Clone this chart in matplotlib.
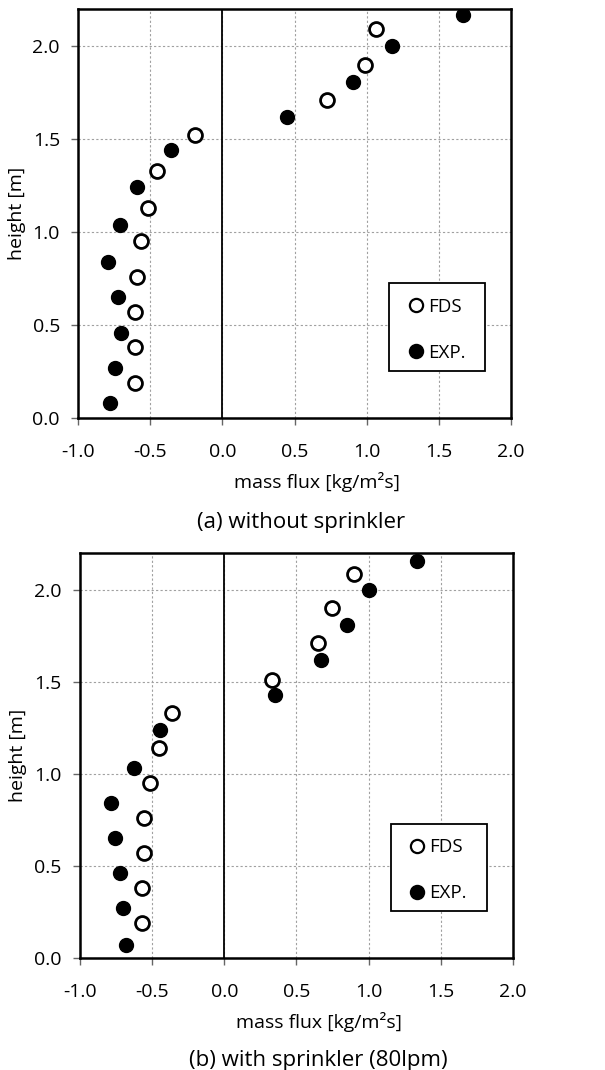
import matplotlib
matplotlib.use("Agg")
import matplotlib.pyplot as plt
from matplotlib.patches import Rectangle

plt.rcParams['font.family'] = ['Open Sans', 'DejaVu Sans']

# -----------------------------
# data
# -----------------------------
# (a) without sprinkler
a_fds_flux = [-0.605, -0.608, -0.605, -0.594, -0.562, -0.515, -0.451, -0.19, 0.724, 0.987, 1.063]
a_fds_height = [0.19, 0.38, 0.57, 0.76, 0.95, 1.13, 1.33, 1.52, 1.71, 1.90, 2.09]
a_exp_flux = [-0.776, -0.746, -0.705, -0.72, -0.792, -0.712, -0.594, -0.358, 0.447, 0.904, 1.174, 1.663]
a_exp_height = [0.08, 0.27, 0.46, 0.65, 0.84, 1.04, 1.24, 1.44, 1.62, 1.81, 2.00, 2.165]

# (b) with sprinkler (80lpm)
b_fds_flux = [-0.568, -0.573, -0.559, -0.555, -0.513, -0.455, -0.365, 0.334, 0.646, 0.747, 0.897]
b_fds_height = [0.19, 0.38, 0.57, 0.76, 0.95, 1.14, 1.33, 1.51, 1.71, 1.90, 2.085]
b_exp_flux = [-0.682, -0.702, -0.723, -0.76, -0.783, -0.622, -0.444, 0.35, 0.673, 0.853, 0.999, 1.338]
b_exp_height = [0.07, 0.27, 0.46, 0.65, 0.84, 1.03, 1.24, 1.43, 1.62, 1.81, 2.00, 2.16]

x_ticks = [-1.0, -0.5, 0.0, 0.5, 1.0, 1.5, 2.0]
y_ticks = [0.0, 0.5, 1.0, 1.5, 2.0]


def draw_panel(ax, fds_x, fds_y, exp_x, exp_y, caption, caption_x):
    ax.set_xlim(-1.0, 2.0)
    ax.set_ylim(0.0, 2.2)
    ax.set_xticks(x_ticks)
    ax.set_yticks(y_ticks)
    ax.set_xticklabels([f"{v:.1f}" for v in x_ticks])
    ax.set_yticklabels([f"{v:.1f}" for v in y_ticks])
    ax.grid(True, color='#a0a0a0', linestyle=(0, (2, 2)), linewidth=0.8)
    ax.axvline(0.0, color='black', linewidth=1.3, zorder=2)
    for s in ax.spines.values():
        s.set_linewidth(1.8)
    ax.tick_params(axis='both', direction='out', length=5, width=1, labelsize=14,
                   color='#666666')
    ax.tick_params(axis='x', pad=13)
    ax.tick_params(axis='y', pad=8)

    ax.plot(fds_x, fds_y, 'o', markersize=10, markerfacecolor='white',
            markeredgecolor='black', markeredgewidth=2, label='FDS', zorder=3)
    ax.plot(exp_x, exp_y, 'o', markersize=10, markerfacecolor='black',
            markeredgecolor='black', label='EXP.', zorder=3)

    ax.set_xlabel("mass flux [kg/m²s]", fontsize=14, labelpad=8)
    ax.xaxis.label.set_x(0.551)
    ax.set_ylabel("height [m]", fontsize=14, labelpad=5)
    ax.text(caption_x, -0.255, caption, transform=ax.transAxes, ha='center',
            va='center', fontsize=16)

    # legend box drawn separately so its size matches the original
    ax.add_patch(Rectangle((0.718, 0.115), 0.222, 0.216, transform=ax.transAxes,
                           facecolor='white', edgecolor='black', linewidth=1.3,
                           zorder=4))
    leg = ax.legend(loc='center', bbox_to_anchor=(0.829, 0.216), fontsize=13.5,
                    frameon=False, handlelength=0.7, handletextpad=0.3,
                    labelspacing=1.5, borderpad=0, borderaxespad=0,
                    markerscale=0.95)
    leg.set_zorder(5)
    for h in leg.legend_handles:
        h.set_markeredgewidth(1.6)


fig = plt.figure(figsize=(6.05, 10.7), dpi=100)
ax1 = fig.add_axes([0.129, 0.6093, 0.716, 0.3823])
ax2 = fig.add_axes([0.132, 0.105, 0.716, 0.378])

draw_panel(ax1, a_fds_flux, a_fds_height, a_exp_flux, a_exp_height,
           "(a) without sprinkler", 0.515)
draw_panel(ax2, b_fds_flux, b_fds_height, b_exp_flux, b_exp_height,
           "(b) with sprinkler (80lpm)", 0.55)

fig.savefig("out.png", dpi=100)
